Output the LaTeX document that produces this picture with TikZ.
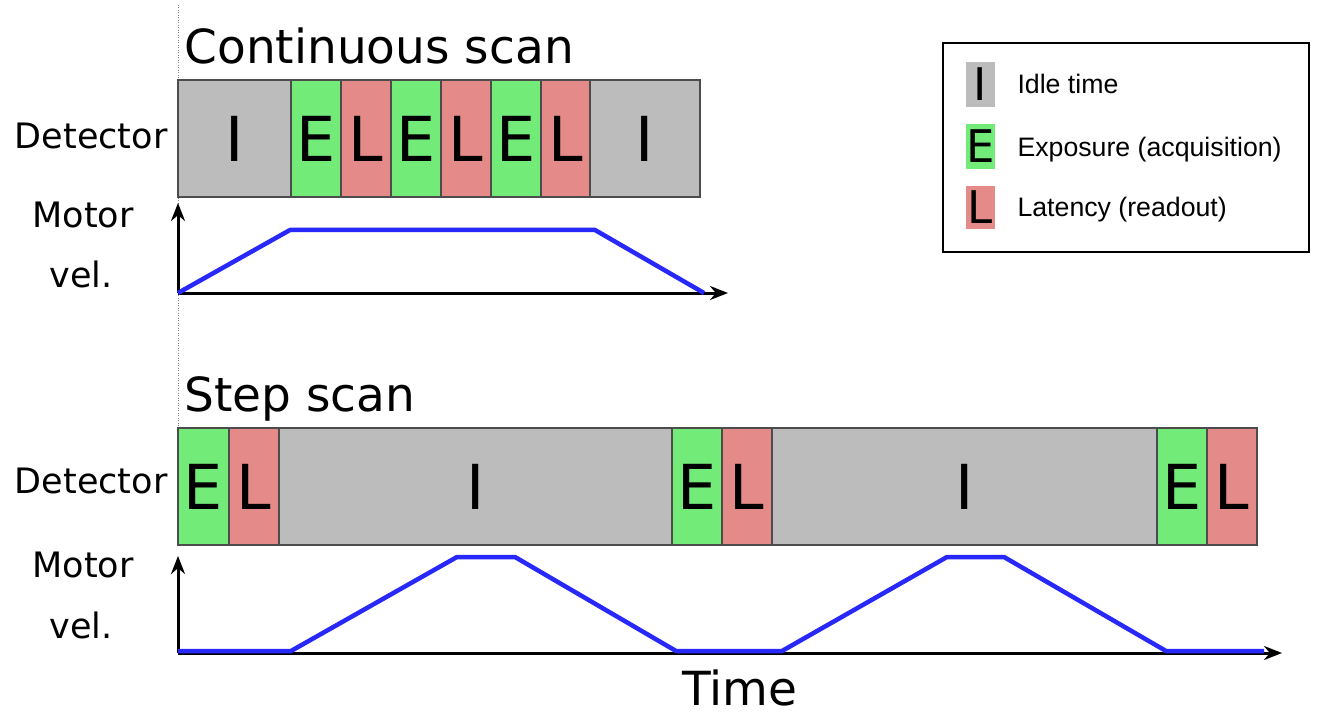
\documentclass[tikz,border=0pt]{standalone}
\usepackage{fontspec}
\setmainfont{DejaVu Sans}
\newfontfamily\legendfont{Liberation Sans}
\usetikzlibrary{arrows.meta}
\definecolor{idlegray}{RGB}{188,188,188}
\definecolor{expgreen}{RGB}{114,235,121}
\definecolor{latred}{RGB}{228,138,136}
\definecolor{velblue}{RGB}{40,40,250}
\begin{document}
\begin{tikzpicture}[x=1pt, y=-1pt,
  seg/.style={draw=black!70, line width=2pt, inner sep=0pt, outer sep=0pt, anchor=north west, minimum height=117pt, font=\fontsize{62}{62}\selectfont},
  idle/.style={seg, fill=idlegray}, expo/.style={seg, fill=expgreen}, lat/.style={seg, fill=latred},
  axis/.style={line width=3pt, -{Stealth[length=18pt,width=14pt]}},
  vel/.style={velblue, line width=4.5pt, line join=round},
  title/.style={anchor=base west, font=\fontsize{47}{47}\selectfont},
  side/.style={font=\fontsize{35}{35}\selectfont},
  swatch/.style={inner sep=0pt, outer sep=0pt, minimum width=29pt, minimum height=45pt, anchor=north west, font=\fontsize{45}{45}\selectfont},
  legtext/.style={anchor=base west, font=\legendfont\fontsize{26.7}{27}\selectfont}]
\useasboundingbox (0,0) rectangle (1317,714);

\draw[gray, line width=0.8pt, dash pattern=on 1pt off 1.5pt] (178,5) -- (178,428);

% continuous scan
\node[title] (ctitle) at (181,64) {Continuous scan};
\node[idle, minimum width=113pt] (ci1) at (178,80) {I};
\foreach \k in {0,1,2} {
  \node[expo, minimum width=50pt] (ce\k) at (291+100*\k,80) {E};
  \node[lat, minimum width=50pt] (cl\k) at (341+100*\k,80) {L};
}
\node[idle, minimum width=110pt] (ci2) at (590,80) {I};
\node[side, anchor=base east] (cdet) at (171,149) {Detector};
\node[side, anchor=base] (cmot) at (83,227) {Motor};
\node[side, anchor=base] (cvel) at (81,287) {vel.};

\coordinate (o1) at (178,293);
\coordinate (cy) at (178,203);
\coordinate (cx) at (728,293);
\draw[axis] (o1) -- (cy);
\draw[axis] (o1) -- (cx);
\draw[vel] (o1) -- (290,230) -- (595,230) -- (704,293);

% step scan
\node[title] (stitle) at (181,411) {Step scan};
\node[expo, minimum width=51pt] (se1) at (178,428) {E};
\node[lat, minimum width=50pt] (sl1) at (229,428) {L};
\node[idle, minimum width=393pt] (si1) at (279,428) {I};
\node[expo, minimum width=50pt] (se2) at (672,428) {E};
\node[lat, minimum width=50pt] (sl2) at (722,428) {L};
\node[idle, minimum width=385pt] (si2) at (772,428) {I};
\node[expo, minimum width=50pt] (se3) at (1157,428) {E};
\node[lat, minimum width=50pt] (sl3) at (1207,428) {L};
\node[side, anchor=base east] (sdet) at (171,493) {Detector};
\node[side, anchor=base] (smot) at (83,577) {Motor};
\node[side, anchor=base] (svel) at (81,638) {vel.};

\coordinate (o2) at (178,653);
\coordinate (sy) at (178,556);
\coordinate (sx) at (1282,653);
\draw[axis] (o2) -- (sy);
\draw[axis] (o2) -- (sx);
\draw[vel] (178,651) -- (291,651) -- (457,557) -- (515,557) -- (676,651) -- (782,651)
  -- (947,557) -- (1004,557) -- (1166,651) -- (1264,651);
\node[title, anchor=base] (time) at (740,705) {Time};

% legend
\node[draw, line width=2pt, minimum width=366pt, minimum height=209pt, anchor=north west] (legend) at (942,42) {};
\node[swatch, fill=idlegray] (lgi) at (966,62) {I};
\node[swatch, fill=expgreen] (lge) at (966,124) {E};
\node[swatch, fill=latred, minimum height=43pt] (lgl) at (966,186) {L};
\node[legtext] (ti) at (1014,94) {Idle time};
\node[legtext] (te) at (1014,157) {Exposure (acquisition)};
\node[legtext] (tl) at (1014,217) {Latency (readout)};
\end{tikzpicture}
\end{document}
